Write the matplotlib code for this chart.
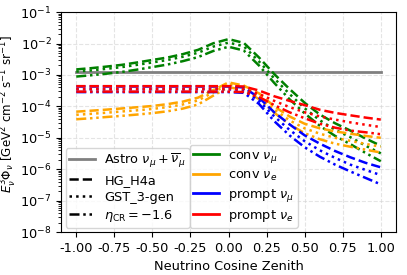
import numpy as np
import matplotlib
matplotlib.use("Agg")
import matplotlib.pyplot as plt
from matplotlib.lines import Line2D

# cos(zenith) grid
cos_zen = [-1.0, -0.9, -0.8, -0.7, -0.6, -0.5, -0.4, -0.3, -0.2, -0.1, 0.0,
           0.1, 0.2, 0.3, 0.4, 0.5, 0.6, 0.7, 0.8, 0.9, 1.0]

astro_flux = [1.22e-3] * len(cos_zen)

# conv numu
conv_numu_hg = [1.5e-3, 1.65e-3, 1.85e-3, 2.1e-3, 2.5e-3, 3.0e-3, 3.6e-3, 4.6e-3, 6.3e-3, 1.02e-2, 1.38e-2,
                1.05e-2, 3.6e-3, 1.07e-3, 3.6e-4, 1.3e-4, 5.5e-5, 2.9e-5, 1.7e-5, 9.5e-6, 5.6e-6]
conv_numu_gst = [1.28e-3, 1.4e-3, 1.57e-3, 1.78e-3, 2.1e-3, 2.5e-3, 3.0e-3, 3.8e-3, 5.1e-3, 8.0e-3, 1.07e-2,
                 8.2e-3, 2.7e-3, 7.8e-4, 2.5e-4, 8.7e-5, 3.6e-5, 1.8e-5, 1.05e-5, 5.6e-6, 3.2e-6]
conv_numu_eta = [8.9e-4, 9.8e-4, 1.1e-3, 1.25e-3, 1.48e-3, 1.78e-3, 2.15e-3, 2.75e-3, 3.7e-3, 5.8e-3, 7.9e-3,
                 6.0e-3, 2.0e-3, 5.6e-4, 1.7e-4, 6.0e-5, 2.4e-5, 1.15e-5, 6.3e-6, 3.3e-6, 1.8e-6]

# conv nue
conv_nue_hg = [6.8e-5, 7.3e-5, 7.9e-5, 8.6e-5, 9.4e-5, 1.03e-4, 1.18e-4, 1.42e-4, 1.9e-4, 3.3e-4, 5.8e-4,
               4.6e-4, 2.6e-4, 1.0e-4, 4.8e-5, 2.8e-5, 2.0e-5, 1.6e-5, 1.35e-5, 1.15e-5, 1.0e-5]
conv_nue_gst = [5.4e-5, 5.8e-5, 6.3e-5, 6.9e-5, 7.5e-5, 8.3e-5, 9.5e-5, 1.15e-4, 1.55e-4, 2.8e-4, 5.1e-4,
                4.0e-4, 2.1e-4, 8.0e-5, 3.6e-5, 2.0e-5, 1.35e-5, 1.0e-5, 8.0e-6, 6.4e-6, 5.2e-6]
conv_nue_eta = [3.9e-5, 4.2e-5, 4.6e-5, 5.0e-5, 5.5e-5, 6.1e-5, 7.0e-5, 8.5e-5, 1.15e-4, 2.2e-4, 4.1e-4,
                3.3e-4, 1.7e-4, 6.3e-5, 2.7e-5, 1.4e-5, 9.0e-6, 6.5e-6, 5.2e-6, 4.2e-6, 3.4e-6]

# prompt numu
prompt_numu_hg = [4.3e-4] * 11 + [4.0e-4, 1.9e-4, 6.5e-5, 2.7e-5, 1.2e-5, 6.5e-6, 3.8e-6, 2.4e-6, 1.6e-6, 1.15e-6]
prompt_numu_gst = [3.5e-4] * 11 + [3.3e-4, 1.5e-4, 4.8e-5, 1.8e-5, 7.8e-6, 4.0e-6, 2.3e-6, 1.4e-6, 9.5e-7, 6.5e-7]
prompt_numu_eta = [2.85e-4] * 11 + [2.7e-4, 1.2e-4, 3.4e-5, 1.2e-5, 5.0e-6, 2.5e-6, 1.4e-6, 8.5e-7, 5.3e-7, 3.3e-7]

# prompt nue
prompt_nue_hg = [4.4e-4] * 11 + [4.3e-4, 3.2e-4, 2.1e-4, 1.5e-4, 1.1e-4, 7.8e-5, 6.2e-5, 5.2e-5, 4.4e-5, 3.8e-5]
prompt_nue_gst = [3.6e-4] * 11 + [3.5e-4, 2.5e-4, 1.5e-4, 9.5e-5, 6.5e-5, 4.8e-5, 3.8e-5, 3.1e-5, 2.6e-5, 2.2e-5]
prompt_nue_eta = [2.95e-4] * 11 + [2.85e-4, 2.0e-4, 1.1e-4, 6.5e-5, 4.2e-5, 2.8e-5, 2.1e-5, 1.7e-5, 1.5e-5, 1.3e-5]

model_names = ["HG_H4a", "GST_3-gen", r"$\eta_{\rm CR} = -1.6$"]
flavour_names = [r"conv $\nu_\mu$", r"conv $\nu_e$", r"prompt $\nu_\mu$", r"prompt $\nu_e$"]
flavour_colors = ["green", "orange", "blue", "red"]

dashdotdot = (0, (4, 1.5, 1, 1.5, 1, 1.5))
model_styles = ["--", ":", dashdotdot]

fluxes = [
    [conv_numu_hg, conv_numu_gst, conv_numu_eta],
    [conv_nue_hg, conv_nue_gst, conv_nue_eta],
    [prompt_numu_hg, prompt_numu_gst, prompt_numu_eta],
    [prompt_nue_hg, prompt_nue_gst, prompt_nue_eta],
]

plt.rcParams["font.size"] = 9.3
fig = plt.figure(figsize=(4.07, 2.75), dpi=100)
ax = fig.add_subplot(111)
fig.subplots_adjust(left=0.150, right=0.973, top=0.956, bottom=0.156)

ax.plot(cos_zen, astro_flux, color="gray", lw=2)
for flav, color in zip(fluxes, flavour_colors):
    for vals, ls in zip(flav, model_styles):
        ax.plot(cos_zen, vals, color=color, ls=ls, lw=1.8)

ax.set_yscale("log")
ax.set_ylim(1e-8, 1e-1)
ax.set_xlim(-1.1, 1.1)
ticks = [-1.0, -0.75, -0.5, -0.25, 0.0, 0.25, 0.5, 0.75, 1.0]
ax.set_xticks(ticks)
ax.set_xticklabels(["%.2f" % t for t in ticks])
ax.grid(True, ls="--", color="lightgray", alpha=0.6, lw=0.8)
ax.set_xlabel("Neutrino Cosine Zenith")
ax.set_ylabel(r"$E_\nu^3\Phi_\nu$ [GeV$^2$ cm$^{-2}$ s$^{-1}$ sr$^{-1}$]", fontsize=8.6)
ax.yaxis.set_label_coords(-0.125, 0.535)

h1 = [Line2D([], [], color="gray", lw=2)]
h1 += [Line2D([], [], color="black", ls=ls, lw=1.8) for ls in model_styles]
l1 = [r"Astro $\nu_\mu + \overline{\nu}_\mu$"] + model_names
leg1 = ax.legend(h1, l1, loc="lower left", bbox_to_anchor=(0.0, 0.0), fontsize=9.3,
                 handlelength=2.0, borderpad=0.3, labelspacing=0.3, handletextpad=0.7,
                 borderaxespad=0.35)
ax.add_artist(leg1)

h2 = [Line2D([], [], color=c, lw=2) for c in flavour_colors]
ax.legend(h2, flavour_names, loc="lower left", bbox_to_anchor=(0.37, 0.0), fontsize=9.3,
          handlelength=2.0, borderpad=0.3, labelspacing=0.3, handletextpad=0.7,
          borderaxespad=0.35)

fig.savefig("out.png", dpi=100)
